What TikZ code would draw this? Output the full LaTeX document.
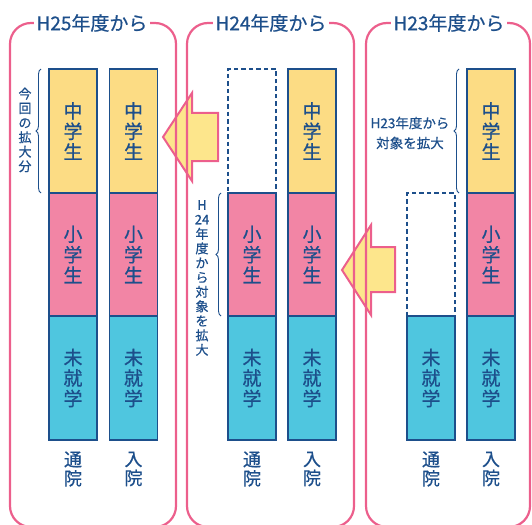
\documentclass[tikz,border=0pt]{standalone}
\usepackage{fontspec}
\setmainfont[FakeBold=0.6]{Noto Sans CJK JP}
\usetikzlibrary{decorations.pathreplacing}
\definecolor{navy}{HTML}{1D4F8B}
\definecolor{pinkline}{HTML}{EC5F8C}
\definecolor{yel}{HTML}{FCDC84}
\definecolor{pnk}{HTML}{F285A5}
\definecolor{cyn}{HTML}{4FC6DF}
\definecolor{arrfill}{HTML}{FDE68C}
\tikzset{
  panel/.style={draw=pinkline, line width=2.2pt, rounded corners=21pt},
  ptitle/.style={fill=white, text=navy, inner sep=3pt, font=\fontsize{19}{21}\selectfont},
  seg/.style={draw=navy, line width=1.5pt, minimum width=48pt, outer sep=0pt, inner sep=0pt,
    text=navy, align=center, font=\fontsize{19}{20.5}\selectfont},
  dashseg/.style={draw=navy, line width=2pt, dash pattern=on 4.5pt off 3pt, fill=white,
    minimum width=48pt, outer sep=0pt, inner sep=0pt},
  blabel/.style={text=navy, align=center, inner sep=0pt, font=\fontsize{18}{19}\selectfont},
  vnote/.style={text=navy, align=center, inner sep=0pt, font=\fontsize{13}{14.5}\selectfont},
  hnote/.style={text=navy, align=center, inner sep=0pt, font=\fontsize{13.5}{20}\selectfont},
  bracestyle/.style={draw=navy, line width=0.9pt, decorate, decoration={brace, amplitude=5pt}},
  blockarrow/.style={draw=pinkline, line width=2pt, fill=arrfill, line join=miter},
}
\begin{document}
\begin{tikzpicture}[x=1pt,y=-1pt]
\useasboundingbox (0,0) rectangle (532,524);
\clip (0,0) rectangle (532,524);
% block arrows
\draw[blockarrow] (163,137) -- (192,93) -- (192,113) -- (218,113) -- (218,161) -- (192,161) -- (192,181) -- cycle;
\draw[blockarrow] (342,270) -- (371,225) -- (371,247) -- (395,247) -- (395,292) -- (371,292) -- (371,315) -- cycle;
% panels
\draw[panel] (10,23) rectangle (176,527);
\draw[panel] (187,23) rectangle (354,527);
\draw[panel] (366,23) rectangle (530,527);
\node[ptitle] (t1) at (92,23) {H25年度から};
\node[ptitle] (t2) at (271,23) {H24年度から};
\node[ptitle] (t3) at (449,23) {H23年度から};
% panel 1 bars
\node[seg, fill=yel, minimum height=124pt] (a1y) at (73,131) {中\\学\\生};
\node[seg, fill=pnk, minimum height=123pt] (a1p) at (73,254.5) {小\\学\\生};
\node[seg, fill=cyn, minimum height=124pt] (a1c) at (73,378) {未\\就\\学};
\node[seg, fill=yel, minimum height=124pt] (a2y) at (133.5,131) {中\\学\\生};
\node[seg, fill=pnk, minimum height=123pt] (a2p) at (133.5,254.5) {小\\学\\生};
\node[seg, fill=cyn, minimum height=124pt] (a2c) at (133.5,378) {未\\就\\学};
% panel 2 bars
\node[dashseg, minimum height=124pt] (b1y) at (252,131) {};
\node[seg, fill=pnk, minimum height=123pt] (b1p) at (252,254.5) {小\\学\\生};
\node[seg, fill=cyn, minimum height=124pt] (b1c) at (252,378) {未\\就\\学};
\node[seg, fill=yel, minimum height=124pt] (b2y) at (312,131) {中\\学\\生};
\node[seg, fill=pnk, minimum height=123pt] (b2p) at (312,254.5) {小\\学\\生};
\node[seg, fill=cyn, minimum height=124pt] (b2c) at (312,378) {未\\就\\学};
% panel 3 bars
\node[dashseg, minimum height=123pt] (c1p) at (431,254.5) {};
\node[seg, fill=cyn, minimum height=124pt] (c1c) at (431,378) {未\\就\\学};
\node[seg, fill=yel, minimum height=124pt] (c2y) at (491,131) {中\\学\\生};
\node[seg, fill=pnk, minimum height=123pt] (c2p) at (491,254.5) {小\\学\\生};
\node[seg, fill=cyn, minimum height=124pt] (c2c) at (491,378) {未\\就\\学};
% bottom labels
\node[blabel] (l1) at (73,469) {通\\院};
\node[blabel] (l2) at (133.5,469) {入\\院};
\node[blabel] (l3) at (252,469) {通\\院};
\node[blabel] (l4) at (312,469) {入\\院};
\node[blabel] (l5) at (431,469) {通\\院};
\node[blabel] (l6) at (491,469) {入\\院};
% braces and notes
\coordinate (br1a) at (41,193); \coordinate (br1b) at (41,69);
\draw[bracestyle] (br1a) -- (br1b);
\node[vnote] (n1) at (25,130) {今\\回\\の\\拡\\大\\分};
\coordinate (br2a) at (221,316); \coordinate (br2b) at (221,193);
\draw[bracestyle] (br2a) -- (br2b);
\node[vnote] (n2) at (202,278) {H\\24\\年\\度\\か\\ら\\対\\象\\を\\拡\\大};
\coordinate (br3a) at (459,193); \coordinate (br3b) at (459,69);
\draw[bracestyle] (br3a) -- (br3b);
\node[hnote] (n3) at (410,133) {H23年度から\\対象を拡大};
\end{tikzpicture}
\end{document}
